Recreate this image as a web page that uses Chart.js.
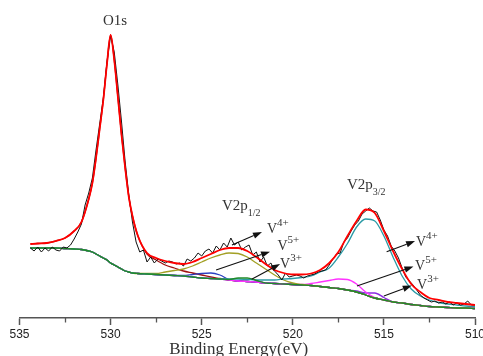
<!DOCTYPE html>
<html><head><meta charset="utf-8">
<script src="https://cdn.jsdelivr.net/npm/chart.js@4"></script>
<style>html,body{margin:0;padding:0;background:#fff}canvas{display:block}</style>
</head><body>
<canvas id="c" width="483" height="356" style="width:483px;height:356px"></canvas>
<script>
// ---- Data (binding energy in eV, intensity in arbitrary units) ----
const rawStart = 534.4, rawStep = 0.2;
const rawIntensity = [70,67,71,66,70,67,71,68,67,71,70,73,79,86,94,113,125,140,168,194,220,256,282,266,233,196,156,123,96,76,66,68,56,61,55,59,57,55,57,56,54,55,52,59,57,60,65,62,67,69,65,72,68,75,71,80,73,76,68,71,73,63,66,56,61,52,55,47,43,38,45,41,42,43,42,40,42,43,44,46,47,48,53,59,64,65,76,80,87,93,97,104,107,110,107,106,98,88,82,72,67,60,50,41,37,33,28,23,20,18,16,17,15,16,14,16,13,15,13,14,17,13,13];

const fitBE = [534.4,534.0,533.5,533.0,532.5,532.0,531.6,531.2,531.0,530.8,530.6,530.4,530.2,530.0,529.8,529.6,529.4,529.2,529.0,528.8,528.5,528.0,527.5,527.0,526.5,526.0,525.5,525.0,524.5,524.0,523.5,523.0,522.5,522.0,521.5,521.0,520.5,520.0,519.5,519.0,518.5,518.0,517.5,517.0,516.5,516.0,515.5,515.0,514.5,514.0,513.5,513.0,512.5,512.0,511.5,511.0,510.5,510.0];
const background = [70,70,70,70,69.5,69,68.5,67,66,64,62,60,58,55,53,51,49,47,46,45,44.5,44,43.5,43,42.5,42,41,40,39.5,39,38,37,36.5,36,35,34.5,34,33.5,33,32.5,31.5,30.5,29.5,28,26,23,20,18,16,15,13.5,12.5,11.5,11,10.5,10,10,9.5];
const envelope = [74,74.5,75,77,80,87,96,119,135,160,189,218,254,283,258,221,183,150,121,102,82,65,60,57,55,54,56,60,64,68,70,70,67,61,54,48,45,43.5,43.5,44.5,48,55,66,82,97,108.5,105,87,67,49,34,26,20,18,16,15,14,13];
const o1sPeak = [74,74.5,75,77,80,87,96,119,135,160,189,218,254,283,258,221,183,150,121,102,82,64,58,53,50,47,45,43,41,39.5,38,37,36.5,36,35,34.5,34,33.5,33,32.5,31.5,30.5,29.5,28,26,23,20,18,16,15,13.5,12.5,11.5,11,10.5,10,10,9.5];
const v4Half = [70,70,70,70,69.5,69,68.5,67,66,64,62,60,58,55,53,51,49,47,46,45,44.5,44.5,44.5,46,47.5,49,52,56,60,63,65,64.5,61,55,49,43,38,35,33.5,32.5,31.5,30.5,29.5,28,26,23,20,18,16,15,13.5,12.5,11.5,11,10.5,10,10,9.5];
const v5Half = [70,70,70,70,69.5,69,68.5,67,66,64,62,60,58,55,53,51,49,47,46,45,44.5,44,43.5,43,42.5,42.5,43.5,44.5,45,43,38.5,37,36.5,36,35,34.5,34,33.5,33,32.5,31.5,30.5,29.5,28,26,23,20,18,16,15,13.5,12.5,11.5,11,10.5,10,10,9.5];
const v3Half = [70,70,70,70,69.5,69,68.5,67,66,64,62,60,58,55,53,51,49,47,46,45,44.5,44,43.5,43,42.5,42,41,40,39.5,39,38.5,40,40,37.5,35,34.5,34,33.5,33,32.5,31.5,30.5,29.5,28,26,23,20,18,16,15,13.5,12.5,11.5,11,10.5,10,10,9.5];
const v4ThreeHalf = [70,70,70,70,69.5,69,68.5,67,66,64,62,60,58,55,53,51,49,47,46,45,44.5,44,43.5,43,42.5,42,41,40,39.5,39,39,39,38.5,38,38,38,39,39.5,40.5,42,46,50,61,74.5,91,99,97,82,61,42,29,22,18,15.5,14,13,12,11.5];
const v5ThreeHalf = [70,70,70,70,69.5,69,68.5,67,66,64,62,60,58,55,53,51,49,47,46,45,44.5,44,43.5,43,42.5,42,41,40,39.5,39,38,37,36.5,36,35,34.5,34,33.5,33.5,34.5,36,37.5,39,38.5,34,26,20.5,18,16,15,13.5,12.5,11.5,11,10.5,10,10,9.5];
const v3ThreeHalf = [70,70,70,70,69.5,69,68.5,67,66,64,62,60,58,55,53,51,49,47,46,45,44.5,44,43.5,43,42.5,42,41,40,39.5,39,38,37,36.5,36,35,34.5,34,33.5,33,32.5,31.5,30.5,29.5,28,27,25,25,20.5,16,15,13.5,12.5,11.5,11,10.5,10,10,9.5];
const xTicks = [510,515,520,525,530,535];
const xMinorTicks = [512.5,517.5,522.5,527.5,532.5];

// ---- build ----
const rawBE = rawIntensity.map((_, i) => +(rawStart - i * rawStep).toFixed(1));
const pts = (xs, ys) => xs.map((x, i) => ({x: x, y: ys[i]}));
function line(data, color, width, order, smooth) {
  return {data: data, borderColor: color, borderWidth: width, order: order, pointRadius: 0,
    fill: false, tension: smooth ? 0.4 : 0, cubicInterpolationMode: smooth ? 'monotone' : 'default'};
}

const labels = [
  {be: 529.76, v: 293, main: 'O1s', align: 'center'},
  {be: 523.89, v: 108, main: 'V2p', sub: '1/2'},
  {be: 517.03, v: 129, main: 'V2p', sub: '3/2'},
  {be: 521.42, v: 85, main: 'V', sup: '4+'},
  {be: 520.84, v: 68, main: 'V', sup: '5+'},
  {be: 520.70, v: 50, main: 'V', sup: '3+'},
  {be: 513.24, v: 72, main: 'V', sup: '4+'},
  {be: 513.29, v: 48, main: 'V', sup: '5+'},
  {be: 513.18, v: 29, main: 'V', sup: '3+'}
];
const arrows = [
  [523.34, 73, 521.69, 86],
  [524.21, 48, 521.25, 66.3],
  [522.26, 38.7, 520.70, 54],
  [514.85, 66.3, 513.29, 77],
  [516.48, 32, 513.38, 51.5],
  [515.00, 22, 513.47, 32.5]
];

const annot = {
  id: 'annot',
  afterDatasetsDraw(chart) {
    const ctx = chart.ctx, xs = chart.scales.x, ys = chart.scales.y;
    ctx.save();
    ctx.strokeStyle = '#111'; ctx.fillStyle = '#111'; ctx.lineWidth = 1.1;
    arrows.forEach(a => {
      const x1 = xs.getPixelForValue(a[0]), y1 = ys.getPixelForValue(a[1]);
      const x2 = xs.getPixelForValue(a[2]), y2 = ys.getPixelForValue(a[3]);
      const ang = Math.atan2(y2 - y1, x2 - x1), L = 9, W = 3.2;
      const bx = x2 - L * Math.cos(ang), by = y2 - L * Math.sin(ang);
      ctx.beginPath(); ctx.moveTo(x1, y1); ctx.lineTo(bx, by); ctx.stroke();
      ctx.beginPath(); ctx.moveTo(x2, y2);
      ctx.lineTo(bx + W * Math.sin(ang), by - W * Math.cos(ang));
      ctx.lineTo(bx - W * Math.sin(ang), by + W * Math.cos(ang));
      ctx.closePath(); ctx.fill();
    });
    ctx.fillStyle = '#333'; ctx.textBaseline = 'alphabetic';
    labels.forEach(l => {
      let x = xs.getPixelForValue(l.be); const y = ys.getPixelForValue(l.v);
      ctx.font = (l.main === 'V' ? '14px' : '15px') + ' "Liberation Serif", serif';
      const w = ctx.measureText(l.main).width;
      if (l.align === 'center') x -= w / 2;
      ctx.textAlign = 'left';
      ctx.fillText(l.main, x, y);
      if (l.sup) { ctx.font = '11px "Liberation Serif", serif'; ctx.fillText(l.sup, x + w, y - 7); }
      if (l.sub) { ctx.font = '10px "Liberation Serif", serif'; ctx.fillText(l.sub, x + w, y + 6); }
    });
    ctx.restore();
  },
  afterDraw(chart) {
    const ctx = chart.ctx, xs = chart.scales.x, y0 = chart.chartArea.bottom;
    ctx.save(); ctx.strokeStyle = '#555'; ctx.lineWidth = 1.3;
    xMinorTicks.forEach(v => {
      const x = Math.round(xs.getPixelForValue(v)) + 0.5;
      ctx.beginPath(); ctx.moveTo(x, y0); ctx.lineTo(x, y0 + 4.5); ctx.stroke();
    });
    ctx.restore();
  }
};

new Chart(document.getElementById('c'), {
  type: 'line',
  data: {
    datasets: [
      line(pts(fitBE, envelope), '#ff0000', 1.8, 0, true),
      line(pts(rawBE, rawIntensity), '#111111', 1, 1, false),
      line(pts(fitBE, v3Half), '#1f8a2a', 1.3, 2, true),
      line(pts(fitBE, v4ThreeHalf), '#2a9aa5', 1.3, 3, true),
      line(pts(fitBE, v4Half), '#a3a025', 1.3, 4, true),
      line(pts(fitBE, v5ThreeHalf), '#ff33ff', 1.3, 5, true),
      line(pts(fitBE, v3ThreeHalf), '#8a2be2', 1.3, 6, true),
      line(pts(fitBE, v5Half), '#2b3fc0', 1.3, 7, true),
      line(pts(fitBE, o1sPeak), '#a01010', 1.3, 8, true),
      line(pts(fitBE, background), '#2a6a40', 1.3, 9, true)
    ]
  },
  options: {
    responsive: false, animation: false,
    layout: {autoPadding: false, padding: {left: 19.5, right: 8, top: 10, bottom: 0}},
    plugins: {legend: {display: false}, tooltip: {enabled: false}},
    scales: {
      x: {
        type: 'linear', reverse: true, min: 510, max: 535,
        afterFit(s) { s.height = 38; },
        afterBuildTicks(s) { s.ticks = xTicks.map(v => ({value: v})); },
        ticks: {font: {family: 'Liberation Sans', size: 12}, color: '#222', padding: 2, maxRotation: 0, autoSkip: false},
        grid: {drawOnChartArea: false, drawTicks: true, tickLength: 7, tickColor: '#555', tickWidth: 1.5},
        border: {color: '#555', width: 1.5},
        title: {display: true, text: 'Binding Energy(eV)\u00a0\u00a0\u00a0\u00a0', color: '#333',
          font: {family: 'Liberation Serif', size: 17, lineHeight: 0.8}, padding: {top: 0, bottom: 0}}
      },
      y: {display: false, min: 0, max: 308}
    }
  },
  plugins: [annot]
});
</script></body></html>
